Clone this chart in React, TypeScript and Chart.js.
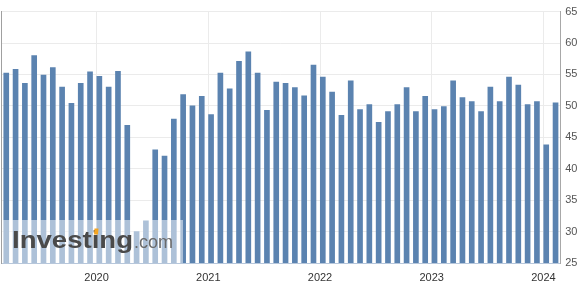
import React, { useEffect, useRef } from "react";
import { Chart, registerables } from "chart.js";

Chart.register(...registerables);

const months: string[] = [
  "2019-03", "2019-04", "2019-05", "2019-06", "2019-07", "2019-08", "2019-09", "2019-10", "2019-11", "2019-12",
  "2020-01", "2020-02", "2020-03", "2020-04", "2020-05", "2020-06", "2020-07", "2020-08", "2020-09", "2020-10", "2020-11", "2020-12",
  "2021-01", "2021-02", "2021-03", "2021-04", "2021-05", "2021-06", "2021-07", "2021-08", "2021-09", "2021-10", "2021-11", "2021-12",
  "2022-01", "2022-02", "2022-03", "2022-04", "2022-05", "2022-06", "2022-07", "2022-08", "2022-09", "2022-10", "2022-11", "2022-12",
  "2023-01", "2023-02", "2023-03", "2023-04", "2023-05", "2023-06", "2023-07", "2023-08", "2023-09", "2023-10", "2023-11", "2023-12",
  "2024-01", "2024-02",
];

const values: number[] = [
  55.2, 55.8, 53.6, 58.0, 54.9, 56.1, 53.0, 50.4, 53.6, 55.4,
  54.7, 53.0, 55.5, 46.9, 30.0, 31.7, 43.0, 42.0, 47.9, 51.8, 50.0, 51.5,
  48.6, 55.2, 52.7, 57.1, 58.6, 55.2, 49.3, 53.8, 53.6, 52.9, 51.6, 56.5,
  54.6, 52.2, 48.5, 54.0, 49.4, 50.2, 47.4, 49.1, 50.2, 52.9, 49.1, 51.5,
  49.4, 49.9, 54.0, 51.3, 50.7, 49.1, 53.0, 50.7, 54.6, 53.3, 50.2, 50.7,
  43.8, 50.5,
];

const yearLabels: string[] = ["2020", "2021", "2022", "2023", "2024"];
const yTickMin = 25;
const yTickMax = 65;
const yTickStep = 5;

const BAR = "#5b83b0";
const GRID = "#ebebeb";
const FONT = "'Liberation Sans', Arial, sans-serif";

const watermark = {
  id: "watermark",
  afterDatasetsDraw(chart: any) {
    const { ctx, chartArea } = chart;
    ctx.save();
    ctx.fillStyle = "rgba(255,255,255,0.5)";
    ctx.fillRect(2, 220, 181, chartArea.bottom - 220);
    ctx.font = `bold 24px ${FONT}`;
    ctx.textBaseline = "alphabetic";
    ctx.textAlign = "left";
    const word = "Investing";
    const w = ctx.measureText(word).width;
    const sx = 121 / w;
    ctx.save();
    ctx.translate(12, 248);
    ctx.scale(sx, 1);
    ctx.fillStyle = "#4a4a4a";
    ctx.fillText(word, 0, 0);
    const wBefore = ctx.measureText("Invest").width;
    const wi = ctx.measureText("i").width;
    ctx.restore();
    const dotX = 12 + (wBefore + wi / 2) * sx;
    ctx.fillStyle = "#f5a623";
    ctx.beginPath();
    ctx.moveTo(dotX - 1.5, 234.5);
    ctx.lineTo(dotX + 2.5, 234.5);
    ctx.lineTo(dotX + 3, 228.5);
    ctx.lineTo(dotX - 1, 228.5);
    ctx.closePath();
    ctx.fill();
    ctx.font = `18px ${FONT}`;
    ctx.fillStyle = "#6a6a6a";
    ctx.fillText(".com", 134, 248);
    ctx.restore();
  },
};

export default function App() {
  const ref = useRef<HTMLCanvasElement | null>(null);

  useEffect(() => {
    if (!ref.current) return;
    const yearTicks = yearLabels.map((y) => months.indexOf(`${y}-01`) - 0.3);
    const chart = new Chart(ref.current, {
      type: "bar",
      data: {
        labels: months,
        datasets: [
          {
            data: values,
            backgroundColor: BAR,
            barThickness: 5,
            xAxisID: "x",
            yAxisID: "y",
          },
        ],
      },
      options: {
        animation: false,
        responsive: false,
        maintainAspectRatio: false,
        layout: { padding: 0 },
        plugins: { legend: { display: false }, tooltip: { enabled: false } },
        scales: {
          x: { type: "category", display: false, offset: true },
          xYear: {
            type: "linear",
            position: "bottom",
            offset: false,
            min: -0.5,
            max: months.length - 0.5,
            afterBuildTicks: (scale: any) => {
              scale.ticks = yearTicks.map((v) => ({ value: v }));
            },
            afterFit: (scale: any) => {
              scale.height = 24;
            },
            grid: { color: GRID, drawTicks: false, offset: false },
            border: { color: "#b7c7db" },
            ticks: {
              padding: 8,
              color: "#333",
              font: { family: FONT, size: 11 },
              maxRotation: 0,
              autoSkip: false,
              callback: (_v: any, i: number) => yearLabels[i],
            },
          },
          y: {
            position: "right",
            min: yTickMin,
            max: yTickMax,
            afterFit: (scale: any) => {
              scale.width = 21.8;
            },
            grid: { color: GRID, drawTicks: false },
            border: { color: "#a8a8a8" },
            ticks: {
              stepSize: yTickStep,
              padding: 5,
              color: "#555",
              font: { family: FONT, size: 11 },
            },
          },
          yLeft: {
            position: "left",
            min: yTickMin,
            max: yTickMax,
            afterFit: (scale: any) => {
              scale.width = 1.6;
            },
            grid: { display: false, drawTicks: false },
            border: { color: "#a0a0a0" },
            ticks: { display: false },
          },
        },
      } as any,
      plugins: [watermark],
    });
    return () => chart.destroy();
  }, []);

  return (
    <div style={{ position: "fixed", left: 0, top: 0, width: 582, height: 287, background: "#fff" }}>
      <canvas ref={ref} width={582} height={287} style={{ display: "block", width: 582, height: 287 }} />
    </div>
  );
}
